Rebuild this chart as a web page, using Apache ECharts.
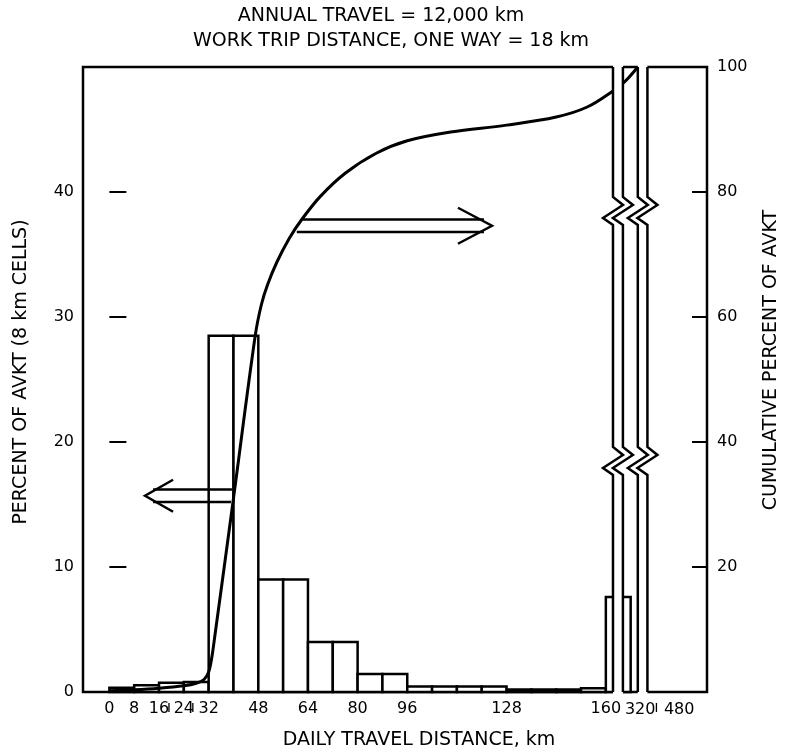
<!DOCTYPE html>
<html>
<head>
<meta charset="utf-8">
<script src="https://cdn.jsdelivr.net/npm/echarts@6/dist/echarts.min.js"></script>
<style>
  html, body { margin: 0; padding: 0; background: #fff; }
  #chart { width: 787px; height: 753px; }
</style>
</head>
<body>
<div id="chart"></div>
<script>
// 8 km distance cells: start / end of each cell (km) and share of AVKT (%)
const cellStartKm = [0, 8, 16, 24, 32, 40, 48, 56, 64, 72, 80, 88, 96, 104, 112, 120, 128, 136, 144, 152, 160];
const cellEndKm   = [8, 16, 24, 32, 40, 48, 56, 64, 72, 80, 88, 96, 104, 112, 120, 128, 136, 144, 152, 160, 168];
const cellPercent = [0.35, 0.55, 0.75, 0.8, 28.5, 28.5, 9.0, 9.0, 4.0, 4.0, 1.45, 1.45, 0.45, 0.45, 0.45, 0.45, 0.2, 0.2, 0.2, 0.3, 7.6];

// Cumulative percent of AVKT along daily travel distance
const cumKm      = [0, 8, 16, 24, 28, 30.5, 32, 33, 34, 40, 47, 49, 51, 54, 58, 62, 68, 76, 86, 96, 110, 128, 144, 154, 162.4, 166, 170.3];
const cumPercent = [0.2, 0.35, 0.6, 1.0, 1.4, 2.0, 3.2, 5.5, 9, 31, 57, 62, 65.2, 68.8, 72.6, 75.6, 79.3, 83.0, 86.2, 88.2, 89.6, 90.7, 92.0, 93.6, 96.2, 97.6, 100];

// Tick labels of the main panel
const xTickKm   = [0, 8, 16, 24, 32, 48, 64, 80, 96, 128, 160];
const leftLabelValues  = [0, 10, 20, 30, 40];
const leftTickValues   = [10, 20, 30, 40];
const rightLabelValues = [20, 40, 60, 80, 100];
const rightTickValues  = [20, 40, 60, 80];
// Labels under the two narrow break panels
const breakPanelLabels = ['320', '480'];

const titleLines = ['ANNUAL TRAVEL = 12,000 km', 'WORK TRIP DISTANCE, ONE WAY = 18 km'];
const xTitle = 'DAILY TRAVEL DISTANCE, km';
const leftTitle = 'PERCENT OF AVKT (8 km CELLS)';
const rightTitle = 'CUMULATIVE PERCENT OF AVKT';

// Broken-axis layout (axis units): the plot is split into three panels
const X_MIN = -8.5, X_MAX = 192.6;
const breakGaps = [[162.3, 165.5], [170.3, 173.4]];

const FONT = '"DejaVu Sans", Verdana, sans-serif';
const INK = '#000';

const chart = echarts.init(document.getElementById('chart'), null, { renderer: 'canvas' });

const labelStyle = { color: INK, fontFamily: FONT, fontSize: 16 };

chart.setOption({
  animation: false,
  backgroundColor: '#fff',
  grid: {
    left: 83, right: 80, top: 67, bottom: 61,
    show: true, borderColor: INK, borderWidth: 2.5,
    backgroundColor: 'transparent',
    containLabel: false, outerBoundsMode: 'none'
  },
  xAxis: {
    type: 'value', min: X_MIN, max: X_MAX,
    axisLine: { show: false }, axisTick: { show: false }, splitLine: { show: false },
    axisLabel: Object.assign({ customValues: xTickKm, margin: 9, hideOverlap: false }, labelStyle)
  },
  yAxis: [
    {
      type: 'value', position: 'left', min: 0, max: 50,
      axisLine: { show: false }, splitLine: { show: false },
      axisTick: { show: true, inside: true, length: 17, customValues: leftTickValues, lineStyle: { color: INK, width: 2 } },
      axisLabel: Object.assign({ customValues: leftLabelValues, margin: 9 }, labelStyle)
    },
    {
      type: 'value', position: 'right', min: 0, max: 100,
      axisLine: { show: false }, splitLine: { show: false },
      axisTick: { show: true, inside: true, length: 15, customValues: rightTickValues, lineStyle: { color: INK, width: 2 } },
      axisLabel: Object.assign({ customValues: rightLabelValues, margin: 10 }, labelStyle)
    }
  ],
  series: [
    {
      type: 'custom',
      name: 'cells',
      xAxisIndex: 0, yAxisIndex: 0,
      data: cellStartKm.map((s, i) => [s, cellEndKm[i], cellPercent[i]]),
      encode: { x: [0, 1], y: 2 },
      renderItem: (params, api) => {
        const topLeft = api.coord([api.value(0), api.value(2)]);
        const bottomRight = api.coord([api.value(1), 0]);
        return {
          type: 'rect',
          shape: { x: topLeft[0], y: topLeft[1], width: bottomRight[0] - topLeft[0], height: bottomRight[1] - topLeft[1] },
          style: { fill: '#fff', stroke: INK, lineWidth: 2.5 }
        };
      },
      z: 2
    },
    {
      type: 'line',
      name: 'cumulative',
      xAxisIndex: 0, yAxisIndex: 1,
      data: cumKm.map((k, i) => [k, cumPercent[i]]),
      showSymbol: false, symbol: 'none',
      smooth: 0.35,
      lineStyle: { color: INK, width: 3 },
      z: 3
    }
  ]
});

// Panel breaks, zigzag break marks, arrows and titles
function px(km, v, yIdx) {
  return chart.convertToPixel({ xAxisIndex: 0, yAxisIndex: yIdx }, [km, v]);
}
const gTop = px(0, 100, 1)[1];
const gBottom = px(0, 0, 1)[1];
const zigTops = [px(0, 79.2, 1)[1], px(0, 39.2, 1)[1]];
const graphics = [];

const gapPx = breakGaps.map(([a, b]) => [px(a, 0, 1)[0], px(b, 0, 1)[0]]);
gapPx.forEach(([xa, xb]) => {
  graphics.push({
    type: 'rect', z: 50,
    shape: { x: xa, y: gTop - 3, width: xb - xa, height: gBottom - gTop + 6 },
    style: { fill: '#fff', stroke: null }
  });
  [xa, xb].forEach(x => {
    const pts = [[x, gTop]];
    zigTops.forEach(zy => {
      pts.push([x, zy], [x + 10, zy + 8], [x - 10, zy + 21], [x, zy + 28]);
    });
    pts.push([x, gBottom]);
    graphics.push({
      type: 'polyline', z: 51,
      shape: { points: pts },
      style: { fill: null, stroke: INK, lineWidth: 2.5, lineJoin: 'miter' }
    });
  });
});

// Labels below the break panels, with the small separator strokes of the label row
const labelY = gBottom + 18;
const rightEdge = px(X_MAX, 0, 1)[0];
graphics.push(
  { type: 'text', z: 60, x: (gapPx[0][1] + gapPx[1][1]) / 2 + 5, y: labelY, style: { text: breakPanelLabels[0], font: '16px ' + FONT, fill: INK, align: 'center', verticalAlign: 'middle' } },
  { type: 'text', z: 60, x: (gapPx[1][1] + rightEdge) / 2 + 2, y: labelY, style: { text: breakPanelLabels[1], font: '16px ' + FONT, fill: INK, align: 'center', verticalAlign: 'middle' } }
);
[px(19.2, 0, 0)[0], px(26.9, 0, 0)[0], gapPx[1][1] + 9].forEach(x => {
  graphics.push({ type: 'line', z: 60, shape: { x1: x, y1: labelY - 7, x2: x, y2: labelY + 2 }, style: { stroke: INK, lineWidth: 1.3 } });
});

// Arrow pointing to the left axis (cells)
(function () {
  const tip = px(11.5, 15.7, 0), tail = px(39.5, 15.7, 0);
  const h = 6.3;
  graphics.push(
    { type: 'line', z: 52, shape: { x1: tip[0] + 8, y1: tip[1] - h, x2: tail[0], y2: tail[1] - h }, style: { stroke: INK, lineWidth: 2.5 } },
    { type: 'line', z: 52, shape: { x1: tip[0] + 8, y1: tip[1] + h, x2: tail[0] - 1, y2: tail[1] + h }, style: { stroke: INK, lineWidth: 2.5 } },
    { type: 'polyline', z: 52, shape: { points: [[tip[0] + 28, tip[1] - 16], [tip[0], tip[1]], [tip[0] + 28, tip[1] + 16]] }, style: { fill: null, stroke: INK, lineWidth: 2.5 } }
  );
})();

// Arrow pointing to the right axis (cumulative curve)
(function () {
  const tip = px(123.3, 37.3, 0);
  const upperStart = px(62, 37.3, 0), lowerStart = px(60.4, 37.3, 0);
  const h = 6.3;
  graphics.push(
    { type: 'line', z: 52, shape: { x1: upperStart[0], y1: tip[1] - h, x2: tip[0] - 8, y2: tip[1] - h }, style: { stroke: INK, lineWidth: 2.5 } },
    { type: 'line', z: 52, shape: { x1: lowerStart[0], y1: tip[1] + h, x2: tip[0] - 8, y2: tip[1] + h }, style: { stroke: INK, lineWidth: 2.5 } },
    { type: 'polyline', z: 52, shape: { points: [[tip[0] - 34, tip[1] - 18], [tip[0], tip[1]], [tip[0] - 34, tip[1] + 18]] }, style: { fill: null, stroke: INK, lineWidth: 2.5 } }
  );
})();

// Header lines, axis titles
graphics.push(
  { type: 'text', z: 60, x: 381, y: 16, style: { text: titleLines[0], font: '19px ' + FONT, fill: INK, align: 'center', verticalAlign: 'middle' } },
  { type: 'text', z: 60, x: 391, y: 41, style: { text: titleLines[1], font: '19px ' + FONT, fill: INK, align: 'center', verticalAlign: 'middle' } },
  { type: 'text', z: 60, x: 419, y: 740, style: { text: xTitle, font: '19px ' + FONT, fill: INK, align: 'center', verticalAlign: 'middle' } },
  { type: 'text', z: 60, x: 21, y: 372, rotation: Math.PI / 2, style: { text: leftTitle, font: '19px ' + FONT, fill: INK, align: 'center', verticalAlign: 'middle' } },
  { type: 'text', z: 60, x: 771, y: 360, rotation: Math.PI / 2, style: { text: rightTitle, font: '19px ' + FONT, fill: INK, align: 'center', verticalAlign: 'middle' } }
);

chart.setOption({ graphic: graphics });
</script>
</body>
</html>
